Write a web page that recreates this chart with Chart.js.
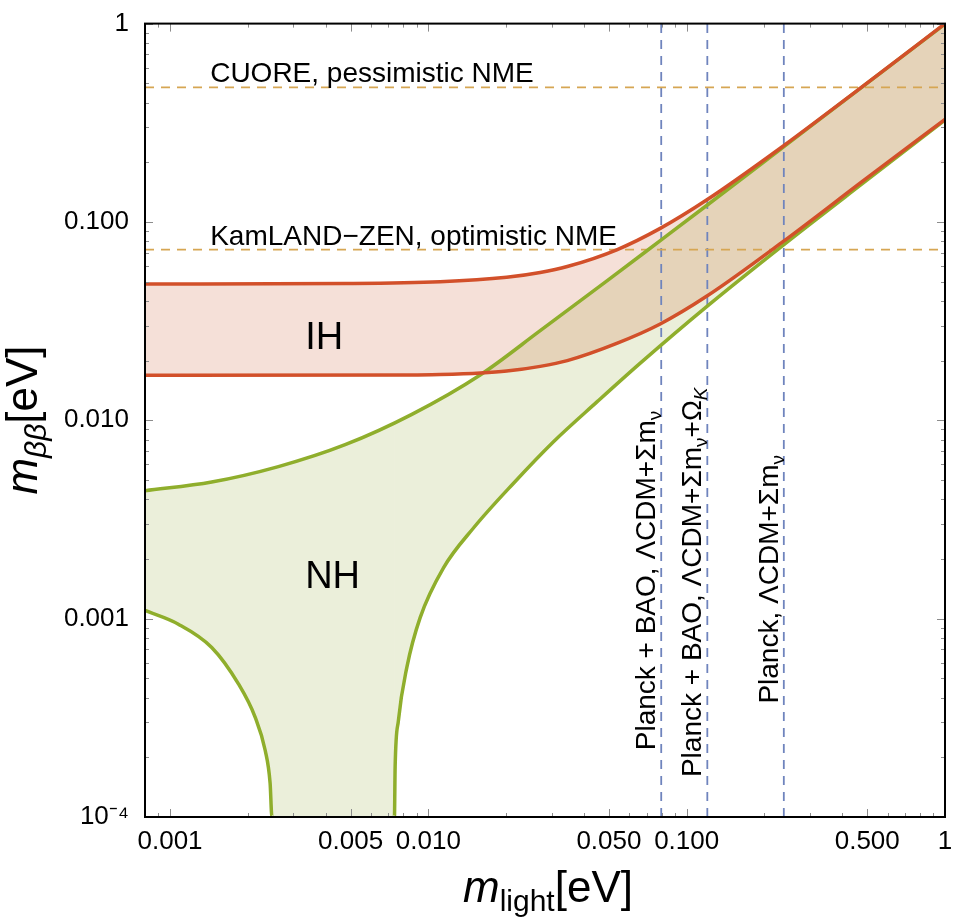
<!DOCTYPE html>
<html>
<head>
<meta charset="utf-8">
<script src="https://cdn.jsdelivr.net/npm/chart.js@4.4.1/dist/chart.umd.min.js"></script>
<style>
html, body { margin: 0; padding: 0; background: #fff; }
#c { display: block; }
</style>
</head>
<body>
<canvas id="c" width="957" height="922"></canvas>
<script>
// inverted hierarchy band (m_light [eV] -> m_bb [eV])
const ihUpperX = [0.0008, 0.00476, 0.0111, 0.0201, 0.0271, 0.0345, 0.0539, 0.079, 0.1198, 0.2373, 0.4843, 1.0];
const ihUpperY = [0.0486, 0.0489, 0.0499, 0.0526, 0.0556, 0.0596, 0.0726, 0.0928, 0.1293, 0.2422, 0.4867, 1.0];
const ihLowerX = [0.0008, 0.00863, 0.0111, 0.0159, 0.0201, 0.0271, 0.0345, 0.0539, 0.079, 0.1198, 0.2373, 0.4843, 1.0];
const ihLowerY = [0.01686, 0.0169, 0.0170, 0.0173, 0.0177, 0.0187, 0.0200, 0.0245, 0.0306, 0.0423, 0.0800, 0.1620, 0.3290];

// normal hierarchy band
const nhUpperX = [0.0008, 0.00145, 0.002627, 0.004763, 0.008632, 0.015871, 0.027102, 0.049128, 0.07902, 0.11985, 0.23727, 0.48427, 1.0];
const nhUpperY = [0.004413, 0.004884, 0.005843, 0.007534, 0.010716, 0.016924, 0.028292, 0.050423, 0.080499, 0.1214, 0.23912, 0.4856, 0.99425];
const nhLowerX = [0.0008, 0.001077, 0.00145, 0.00184, 0.002135, 0.002335, 0.00244, 0.00248,
  0.00739, 0.007437, 0.007659, 0.008255, 0.009295, 0.011444, 0.01495, 0.021369, 0.030509,
  0.044939, 0.066126, 0.11985, 0.23727, 0.48427, 1.0];
const nhLowerY = [0.00110, 0.000938, 0.000716, 0.000469, 0.000319, 0.000217, 0.000148, 0.0001,
  0.0001, 0.000179, 0.000307, 0.000568, 0.001012, 0.001804, 0.002864, 0.004818, 0.0078,
  0.012384, 0.019431, 0.037554, 0.076692, 0.15772, 0.32628];

// experimental limits
const hLimitNames = ['CUORE, pessimistic NME', 'KamLAND\u2212ZEN, optimistic NME'];
const hLimitY = [0.477, 0.0726];
const vLimitX = [0.0797, 0.1202, 0.2377];

// axes
const xMin = 0.0008, xMax = 1;
const yMin = 0.0001, yMax = 1;
const xTickValues = [0.001, 0.005, 0.01, 0.05, 0.1, 0.5, 1];
const xTickLabels = ['0.001', '0.005', '0.010', '0.050', '0.100', '0.500', '1'];
const xMinorTicks = [0.0009, 0.002, 0.003, 0.004, 0.006, 0.007, 0.008, 0.009,
  0.02, 0.03, 0.04, 0.06, 0.07, 0.08, 0.09, 0.2, 0.3, 0.4, 0.6, 0.7, 0.8, 0.9];
const yTickValues = [0.0001, 0.001, 0.01, 0.1, 1];
const yTickLabels = ['10\u207B\u2074', '0.001', '0.010', '0.100', '1'];
const yMinorTicks = [0.0002, 0.0003, 0.0004, 0.0005, 0.0006, 0.0007, 0.0008, 0.0009,
  0.002, 0.003, 0.004, 0.005, 0.006, 0.007, 0.008, 0.009,
  0.02, 0.03, 0.04, 0.05, 0.06, 0.07, 0.08, 0.09,
  0.2, 0.3, 0.4, 0.5, 0.6, 0.7, 0.8, 0.9];

const FONT = "'Liberation Sans', Arial, Helvetica, sans-serif";
const RED = '#d2502a';
const GREEN = '#8fae2c';
const GOLD = '#d6a653';
const BLUE = '#6f84bd';

function pts(xs, ys) {
  return xs.map((x, i) => ({ x: x, y: ys[i] }));
}

function font(size, style) {
  return (style ? style + ' ' : '') + size + 'px ' + FONT;
}

function drawRuns(ctx, runs, x, y, align) {
  let widths = runs.map(r => { ctx.font = r.font; return ctx.measureText(r.t).width; });
  let total = widths.reduce((a, b) => a + b, 0);
  let cx = align === 'center' ? x - total / 2 : x;
  runs.forEach((r, i) => {
    ctx.font = r.font;
    ctx.fillText(r.t, cx, y + (r.dy || 0));
    cx += widths[i];
  });
}

function lineDs(data, color, width, order, extra) {
  return Object.assign({
    data: data,
    showLine: true,
    borderColor: color,
    borderWidth: width,
    pointRadius: 0,
    pointHoverRadius: 0,
    fill: false,
    order: order
  }, extra || {});
}

let datasets = [
  lineDs(pts(ihUpperX, ihUpperY), RED, 3.5, 1, { fill: { target: 1 }, backgroundColor: 'rgba(196,73,26,0.17)', cubicInterpolationMode: 'monotone' }),
  lineDs(pts(ihLowerX, ihLowerY), RED, 3.5, 1, { cubicInterpolationMode: 'monotone' }),
  lineDs(pts(nhUpperX, nhUpperY), GREEN, 3.5, 2, { fill: { target: 3 }, backgroundColor: 'rgba(137,161,37,0.17)', cubicInterpolationMode: 'monotone' }),
  lineDs(pts(nhLowerX, nhLowerY), GREEN, 3.5, 2, {
    cubicInterpolationMode: 'monotone',
    segment: {
      borderColor: c => (c.p0.parsed.y <= yMin && c.p1.parsed.y <= yMin) ? 'rgba(0,0,0,0)' : GREEN
    }
  })
];
for (let h of hLimitY) {
  datasets.push(lineDs([{ x: xMin, y: h }, { x: xMax, y: h }], GOLD, 1.8, 3, { borderDash: [9, 7] }));
}
for (let v of vLimitX) {
  datasets.push(lineDs([{ x: v, y: yMin }, { x: v, y: yMax }], BLUE, 1.8, 3, { borderDash: [9, 7] }));
}

const decor = {
  id: 'decor',
  afterDraw(chart) {
    const ctx = chart.ctx;
    const a = chart.chartArea;
    const xs = chart.scales.x, ys = chart.scales.y;
    ctx.save();

    // inward ticks on all four sides
    ctx.strokeStyle = '#8c8c8c';
    ctx.lineWidth = 1;
    ctx.beginPath();
    const tickX = (v, len) => {
      const p = Math.round(xs.getPixelForValue(v)) + 0.5;
      ctx.moveTo(p, a.bottom); ctx.lineTo(p, a.bottom - len);
      ctx.moveTo(p, a.top); ctx.lineTo(p, a.top + len);
    };
    const tickY = (v, len) => {
      const p = Math.round(ys.getPixelForValue(v)) + 0.5;
      ctx.moveTo(a.left, p); ctx.lineTo(a.left + len, p);
      ctx.moveTo(a.right, p); ctx.lineTo(a.right - len, p);
    };
    xTickValues.forEach(v => tickX(v, 8));
    xMinorTicks.forEach(v => tickX(v, 4));
    yTickValues.forEach(v => tickY(v, 8));
    yMinorTicks.forEach(v => tickY(v, 4));
    ctx.stroke();

    // frame
    ctx.strokeStyle = '#000';
    ctx.lineWidth = 2;
    ctx.strokeRect(a.left, a.top, a.right - a.left, a.bottom - a.top);

    ctx.fillStyle = '#000';
    ctx.textBaseline = 'alphabetic';
    ctx.textAlign = 'left';

    // horizontal limit labels
    hLimitNames.forEach((name, i) => {
      ctx.font = font(28);
      ctx.fillText(name, xs.getPixelForValue(0.00143), ys.getPixelForValue(hLimitY[i]) - 5);
    });

    // vertical limit labels
    const big = font(28), sub = font(19);
    const vLabels = [
      [{ t: 'Planck + BAO, \u039BCDM+\u03A3m', font: big }, { t: '\u03BD', font: sub, dy: 6 }],
      [{ t: 'Planck + BAO, \u039BCDM+\u03A3m', font: big }, { t: '\u03BD', font: sub, dy: 6 },
       { t: '+\u03A9', font: big }, { t: 'K', font: font(19, 'italic'), dy: 6 }],
      [{ t: 'Planck, \u039BCDM+\u03A3m', font: big }, { t: '\u03BD', font: sub, dy: 6 }]
    ];
    const vStart = [0.000217, 0.000159, 0.000373];
    vLabels.forEach((runs, i) => {
      ctx.save();
      ctx.translate(xs.getPixelForValue(vLimitX[i]) - 6, ys.getPixelForValue(vStart[i]));
      ctx.rotate(-Math.PI / 2);
      drawRuns(ctx, runs, 0, 0, 'left');
      ctx.restore();
    });

    // band labels
    ctx.textAlign = 'center';
    ctx.textBaseline = 'middle';
    ctx.font = font(38);
    ctx.fillText('IH', xs.getPixelForValue(0.00395), ys.getPixelForValue(0.0259));
    ctx.fillText('NH', xs.getPixelForValue(0.00426), ys.getPixelForValue(0.00162));

    // axis titles
    ctx.textAlign = 'left';
    ctx.textBaseline = 'alphabetic';
    drawRuns(ctx, [
      { t: 'm', font: font(44, 'italic') },
      { t: 'light', font: font(30), dy: 9 },
      { t: '[eV]', font: font(44) }
    ], 548, 902, 'center');

    ctx.save();
    ctx.translate(37, 420);
    ctx.rotate(-Math.PI / 2);
    drawRuns(ctx, [
      { t: 'm', font: font(44, 'italic') },
      { t: '\u03B2\u03B2', font: font(30, 'italic'), dy: 9 },
      { t: '[eV]', font: font(44) }
    ], 0, 0, 'center');
    ctx.restore();

    ctx.restore();
  }
};

new Chart(document.getElementById('c'), {
  type: 'scatter',
  data: { datasets: datasets },
  options: {
    responsive: false,
    animation: false,
    events: [],
    layout: { padding: { top: 20, right: 12, left: 0, bottom: 0 } },
    plugins: {
      legend: { display: false },
      tooltip: { enabled: false },
      filler: { drawTime: 'beforeDatasetsDraw' }
    },
    scales: {
      x: {
        type: 'logarithmic',
        min: xMin,
        max: xMax,
        grid: { display: false },
        border: { display: false },
        afterBuildTicks: s => { s.ticks = xTickValues.map(v => ({ value: v })); },
        afterFit: s => { s.height = 105; },
        ticks: {
          autoSkip: false,
          maxRotation: 0,
          padding: 1,
          color: '#000',
          font: { family: FONT, size: 26 },
          callback: v => { const i = xTickValues.indexOf(v); return i >= 0 ? xTickLabels[i] : ''; }
        }
      },
      y: {
        type: 'logarithmic',
        min: yMin,
        max: yMax,
        grid: { display: false },
        border: { display: false },
        afterBuildTicks: s => { s.ticks = yTickValues.map(v => ({ value: v })); },
        afterFit: s => { s.width = 145; },
        ticks: {
          autoSkip: false,
          padding: 8,
          color: '#000',
          font: { family: FONT, size: 26 },
          callback: v => { const i = yTickValues.indexOf(v); return i >= 0 ? yTickLabels[i] : ''; }
        }
      }
    }
  },
  plugins: [decor]
});
</script>
</body>
</html>
